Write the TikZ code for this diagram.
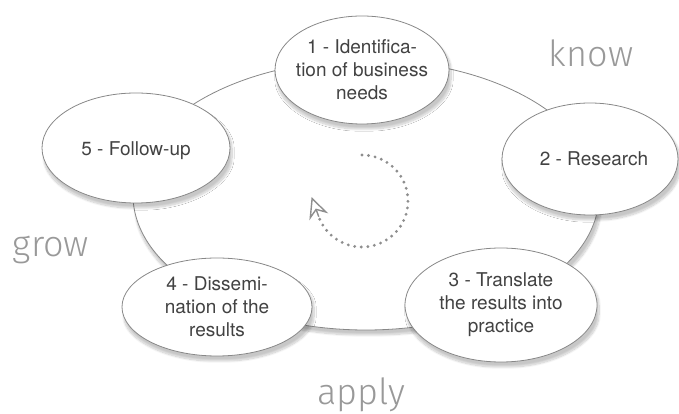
\documentclass[tikz,border=0pt]{standalone}
\usepackage{fontspec}
\setmainfont{TeX Gyre Heros}
\newfontfamily\thinfont{Fira Sans Light}
\usetikzlibrary{shapes.geometric,arrows.meta,shadows.blur}

\definecolor{edgegray}{HTML}{888888}
\definecolor{textgray}{HTML}{424242}
\definecolor{wordgray}{HTML}{999999}
\definecolor{dotgray}{HTML}{8E8E8E}

\tikzstyle{softshadow} = [
        blur shadow={shadow xshift=2pt, shadow yshift=-5pt,
            shadow blur steps=12, shadow blur extra rounding=5pt, shadow opacity=22}
    ]
\tikzstyle{ring} = [
        draw=edgegray, fill=white, ellipse, inner sep=0pt, line width=0.8pt, softshadow
    ]
\tikzstyle{stage} = [
        draw=edgegray, fill=white, ellipse, inner sep=0pt, line width=0.8pt, softshadow
    ]
\tikzstyle{stagetext} = [
        align=center, text=textgray, font=\fontsize{19}{23}\selectfont
    ]
\tikzstyle{word} = [text=wordgray, font=\thinfont\fontsize{36}{40}\selectfont, anchor=base]
\tikzstyle{dotline} = [
        dotgray, line width=3.2pt, line cap=round, dash pattern=on 0pt off 6.6pt
    ]
\tikzstyle{spinarrow} = [
        dotgray, line width=1.4pt, -{Stealth[open, length=21pt, width=20pt, inset=7pt]}
    ]

\begin{document}
\begin{tikzpicture}[x=1pt, y=1pt]
        \useasboundingbox (0,0) rectangle (679,414);
        % big cycle behind the stages
        \node [ring, minimum width=466pt, minimum height=270pt] (cycle) at (366,219) {};
        % stages
        \node [stage, minimum width=174pt, minimum height=108pt,
            label={[stagetext]center:{1 - Identifica-\\tion of business\\needs}}] (s1) at (362,344) {};
        \node [stage, minimum width=176pt, minimum height=112pt,
            label={[stagetext, xshift=4pt]center:{2 - Research}}] (s2) at (590,255) {};
        \node [stage, minimum width=192pt, minimum height=114pt,
            label={[stagetext]center:{3 - Translate\\the results into\\practice}}] (s3) at (501,109) {};
        \node [stage, minimum width=190pt, minimum height=98pt,
            label={[stagetext]center:{4 - Dissemi-\\nation of the\\results}}] (s4) at (217,107) {};
        \node [stage, minimum width=188pt, minimum height=110pt,
            label={[stagetext, yshift=-3pt]center:{5 - Follow-up}}] (s5) at (136,266) {};
        % words round the cycle
        \node [word] (know) at (591,347) {know};
        \node [word] (grow) at (51,157) {grow};
        \node [word] (apply) at (361,9) {apply};
        % turning arrow in the middle
        \coordinate (spin) at (362,213);
        \draw [dotline] ([shift={(90:46)}]spin) arc[start angle=90, end angle=-160, radius=46]
            coordinate (spintail);
        \draw [spinarrow] (spintail) -- ++(-7.2,19.7);
    \end{tikzpicture}
\end{document}
